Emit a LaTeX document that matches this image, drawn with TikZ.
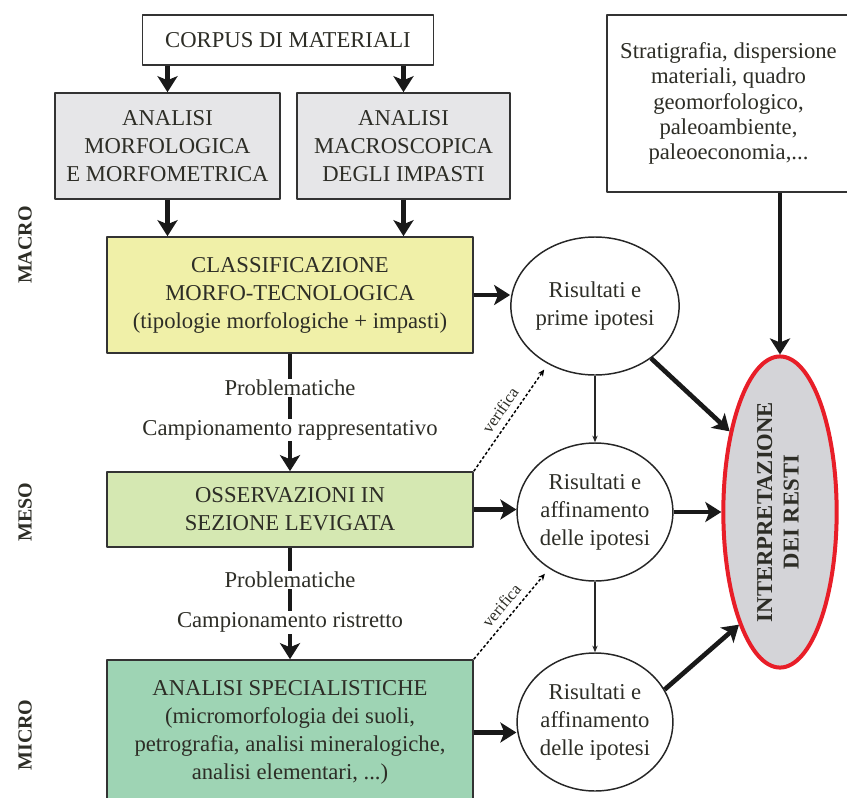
\documentclass[tikz,border=0pt]{standalone}
\usepackage{fontspec}
\setmainfont{Liberation Serif}
\usepackage{tikz}
\usetikzlibrary{positioning, arrows.meta, shapes.geometric}

\definecolor{inkdark}{RGB}{45,45,38}
\definecolor{boxgray}{RGB}{230,230,232}
\definecolor{lemon}{RGB}{240,240,168}
\definecolor{sage}{RGB}{213,232,178}
\definecolor{mint}{RGB}{158,212,180}
\definecolor{ellgray}{RGB}{212,212,216}
\definecolor{redline}{RGB}{232,30,40}

\begin{document}
\begin{tikzpicture}[x=0.75pt, y=-0.75pt, line join=round,
    txt/.style={font=\fontsize{17}{21}\selectfont, text=inkdark, align=center},
    box/.style={txt, draw=black!80, line width=1.2pt, inner sep=0pt},
    res/.style={txt, ellipse, draw=black!85, line width=1.1pt, minimum width=115.5pt, minimum height=103.5pt, inner sep=0pt},
    thickarrow/.style={-{Stealth[width=15pt,length=12pt,inset=3pt]}, line width=3.5pt, black!90},
    lightarrow/.style={-{Stealth[width=4pt,length=5pt]}, line width=0.8pt, black!85},
    checkarrow/.style={-{Stealth[width=4.5pt,length=5pt]}, line width=1.1pt, dash pattern=on 2.2pt off 1.6pt, shorten >=5pt},
    checklab/.style={sloped, above=1.5pt, font=\fontsize{12.5}{14}\selectfont, text=inkdark},
    lab/.style={txt, fill=white, inner sep=1pt},
    scalelabel/.style={font=\fontsize{15}{18}\selectfont\bfseries, rotate=90, text=inkdark}]
        \useasboundingbox (0,0) rectangle (847,797);

        % scale labels
        \node[scalelabel] (lmacro) at (25,245) {MACRO};
        \node[scalelabel] (lmeso)  at (25,512) {MESO};
        \node[scalelabel] (lmicro) at (25,735) {MICRO};

        % left column
        \node[box, fill=white, minimum width=218pt, minimum height=37.5pt] (corpus) at (288,40) {CORPUS DI MATERIALI};
        \node[box, fill=boxgray, minimum width=169pt, minimum height=79.5pt] (morf) at (167.5,146) {ANALISI\\MORFOLOGICA\\E MORFOMETRICA};
        \node[box, fill=boxgray, minimum width=160pt, minimum height=79.5pt] (macro) at (403.5,146) {ANALISI\\MACROSCOPICA\\DEGLI IMPASTI};
        \node[box, fill=lemon, minimum width=274.5pt, minimum height=87pt] (classif) at (290,295) {CLASSIFICAZIONE\\MORFO-TECNOLOGICA\\(tipologie morfologiche + impasti)};
        \node[box, fill=sage, minimum width=274.5pt, minimum height=56.25pt] (osserv) at (290,509.5) {OSSERVAZIONI IN\\SEZIONE LEVIGATA};
        \node[box, fill=mint, minimum width=274.5pt, minimum height=108.75pt] (spec) at (290,732.5) {ANALISI SPECIALISTICHE\\(micromorfologia dei suoli,\\petrografia, analisi mineralogiche,\\analisi elementari, ...)};

        % results
        \node[res] (c1) at (595,306) {Risultati e\\prime ipotesi};
        \node[res] (c2) at (595,512) {Risultati e\\affinamento\\delle ipotesi};
        \node[res] (c3) at (595,722) {Risultati e\\affinamento\\delle ipotesi};

        % context and interpretation
        \node[box, fill=white, font=\fontsize{17}{19}\selectfont, minimum width=182pt, minimum height=133pt] (info) at (728.5,103.5) {Stratigrafia, dispersione\\materiali, quadro\\geomorfologico,\\paleoambiente,\\paleoeconomia,...};
        \node[ellipse, draw=redline, line width=3pt, fill=ellgray, minimum width=85pt, minimum height=210pt, inner sep=0pt, font=\fontsize{17}{20}\selectfont\bfseries, text=inkdark] (interp) at (780,512)
            {\rotatebox{90}{\begin{tabular}{@{}c@{}}INTERPRETAZIONE\\DEI RESTI\end{tabular}}};

        % main flow
        \draw[thickarrow] (corpus.south -| morf.north) -- (morf.north);
        \draw[thickarrow] (corpus.south -| macro.north) -- (macro.north);
        \draw[thickarrow] (morf.south) -- (morf.south |- classif.north);
        \draw[thickarrow] (macro.south) -- (macro.south |- classif.north);
        \draw[thickarrow] (classif.south) -- node[lab, pos=0.29] {Problematiche} node[lab, pos=0.65] {Campionamento rappresentativo} (osserv.north);
        \draw[thickarrow] (osserv.south) -- node[lab, pos=0.29] {Problematiche} node[lab, pos=0.67] {Campionamento ristretto} (spec.north);

        % towards results
        \draw[thickarrow] (classif.east) -- (classif.east -| c1.west);
        \draw[thickarrow] (osserv.east) -- (osserv.east -| c2.west);
        \draw[thickarrow] (spec.east) -- (spec.east -| c3.west);
        \draw[lightarrow] (c1) -- (c2);
        \draw[lightarrow] (c2) -- (c3);
        \draw[checkarrow] (osserv.north east) -- node[checklab] {verifica} (c1.231);
        \draw[checkarrow] (spec.north east) -- node[checklab] {verifica} (c2.231);

        % towards interpretation
        \draw[thickarrow] (info.south -| interp.north) -- (interp.north);
        \draw[thickarrow] (c1.-43) -- (interp.122);
        \draw[thickarrow] (c2) -- (interp);
        \draw[thickarrow] (c3.25) -- (interp.250);
    \end{tikzpicture}
\end{document}
